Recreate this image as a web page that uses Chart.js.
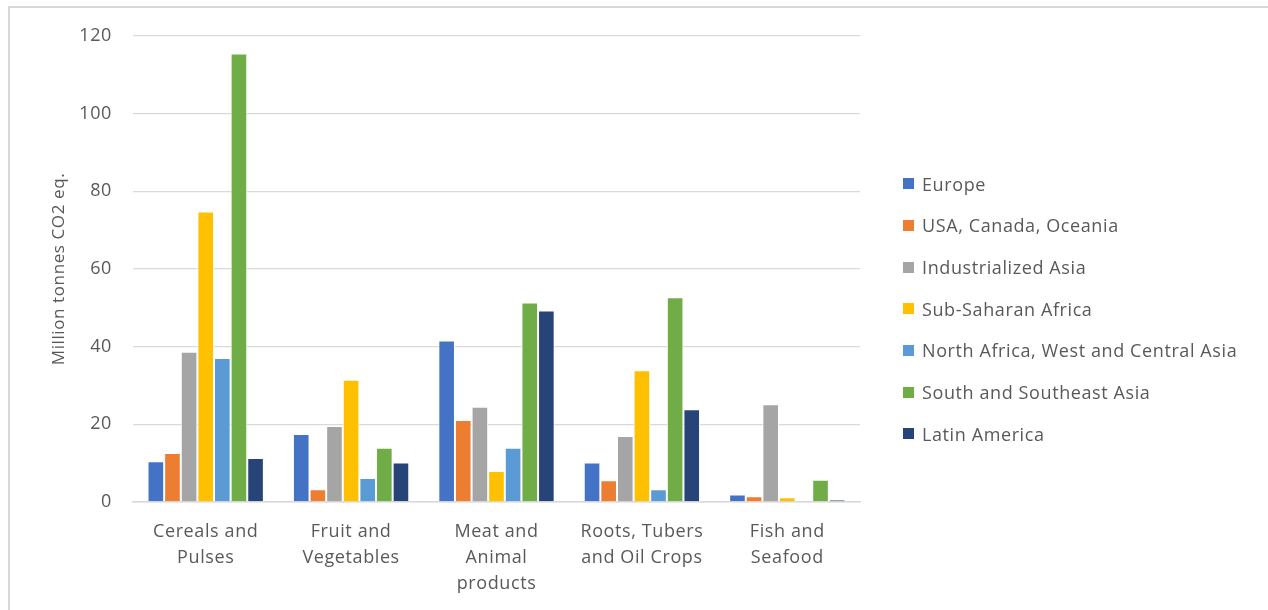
<!DOCTYPE html>
<html>
<head>
<meta charset="utf-8">
<script src="https://cdn.jsdelivr.net/npm/chart.js@4/dist/chart.umd.min.js"></script>
<style>
  body { margin: 0; background: #fff; font-family: "Open Sans", sans-serif; }
  #frame { position: absolute; left: 8px; top: 6px; width: 1300px; height: 700px;
           border-left: 2px solid #d9d9d9; border-top: 2px solid #d9d9d9; }
  #wrap { position: absolute; left: 0; top: 0; width: 1268px; height: 610px; }
  #legend { position: absolute; left: 903px; top: 163px; margin: 0; padding: 0; list-style: none; }
  #legend li { height: 41.67px; display: flex; align-items: center; color: #595959; font-size: 18px;
               letter-spacing: 0.6px; white-space: nowrap; }
  #legend span.box { display: inline-block; width: 11px; height: 11px; margin-right: 8px; }
</style>
</head>
<body>
<div id="frame"></div>
<div id="wrap"><canvas id="chart" width="1268" height="610"></canvas></div>
<ul id="legend"></ul>
<script>
// categories on the x axis (multi-line labels)
const categories = [
    ['Cereals and', 'Pulses'],
    ['Fruit and', 'Vegetables'],
    ['Meat and', 'Animal', 'products'],
    ['Roots, Tubers', 'and Oil Crops'],
    ['Fish and', 'Seafood']
];

// regions and their colours
const regions = ['Europe', 'USA, Canada, Oceania', 'Industrialized Asia', 'Sub-Saharan Africa',
    'North Africa, West and Central Asia', 'South and Southeast Asia', 'Latin America'];
const colours = ['#4472C4', '#ED7D31', '#A5A5A5', '#FFC000', '#5B9BD5', '#70AD47', '#264478'];

// values per region (million tonnes CO2 eq.), one per category
const europe = [10.5, 17.5, 41.6, 10.2, 1.9];
const usaCanadaOceania = [12.6, 3.3, 21.1, 5.6, 1.5];
const industrializedAsia = [38.7, 19.6, 24.5, 17.0, 25.2];
const subSaharanAfrica = [74.8, 31.5, 8.0, 33.9, 1.2];
const northAfricaWestCentralAsia = [37.1, 6.2, 14.0, 3.3, 0];
const southSoutheastAsia = [115.5, 14.0, 51.4, 52.7, 5.7];
const latinAmerica = [11.3, 10.2, 49.3, 23.9, 0.6];

// y axis ticks
const yMin = 0;
const yMax = 120;
const yStep = 20;

const seriesValues = [europe, usaCanadaOceania, industrializedAsia, subSaharanAfrica,
    northAfricaWestCentralAsia, southSoutheastAsia, latinAmerica];

Chart.defaults.font.family = '"Open Sans", sans-serif';
Chart.defaults.color = '#595959';

// widen the canvas text a little, like the original's rendering
const spacing = {
    id: 'spacing',
    beforeUpdate: (chart) => { chart.ctx.letterSpacing = '0.6px'; },
    beforeDraw: (chart) => { chart.ctx.letterSpacing = '0.6px'; }
};

const ctx = document.getElementById('chart').getContext('2d');
const chart = new Chart(ctx, {
    type: 'bar',
    data: {
        labels: categories,
        datasets: regions.map((name, i) => ({
            label: name,
            data: seriesValues[i],
            backgroundColor: colours[i],
            borderColor: '#ffffff',
            borderWidth: 1,
            barPercentage: 1,
            categoryPercentage: 0.8
        }))
    },
    plugins: [spacing],
    options: {
        responsive: false,
        animation: false,
        layout: { padding: { top: 36, right: 408, bottom: 0, left: 0 } },
        plugins: {
            legend: { display: false },
            tooltip: { enabled: false }
        },
        scales: {
            x: {
                grid: { display: false, drawTicks: false },
                border: { color: '#d9d9d9', width: 1.5 },
                ticks: { font: { size: 18, lineHeight: 1.45 }, padding: 17, maxRotation: 0, autoSkip: false },
                afterFit: (scale) => { scale.height = 108; }
            },
            y: {
                min: yMin,
                max: yMax,
                ticks: { stepSize: yStep, font: { size: 18 }, padding: 21 },
                grid: { color: '#d9d9d9', lineWidth: 1.3, drawTicks: false },
                border: { display: false },
                title: {
                    display: true,
                    text: 'Million tonnes CO2 eq.',
                    font: { size: 17 },
                    padding: { top: 49, bottom: 0 }
                },
                afterFit: (scale) => { scale.width = 133; }
            }
        }
    }
});

// build the legend from the chart's datasets
const legendEl = document.getElementById('legend');
chart.data.datasets.forEach(ds => {
    const li = document.createElement('li');
    const box = document.createElement('span');
    box.className = 'box';
    box.style.background = ds.backgroundColor;
    li.appendChild(box);
    li.appendChild(document.createTextNode(ds.label));
    legendEl.appendChild(li);
});
</script>
</body>
</html>
